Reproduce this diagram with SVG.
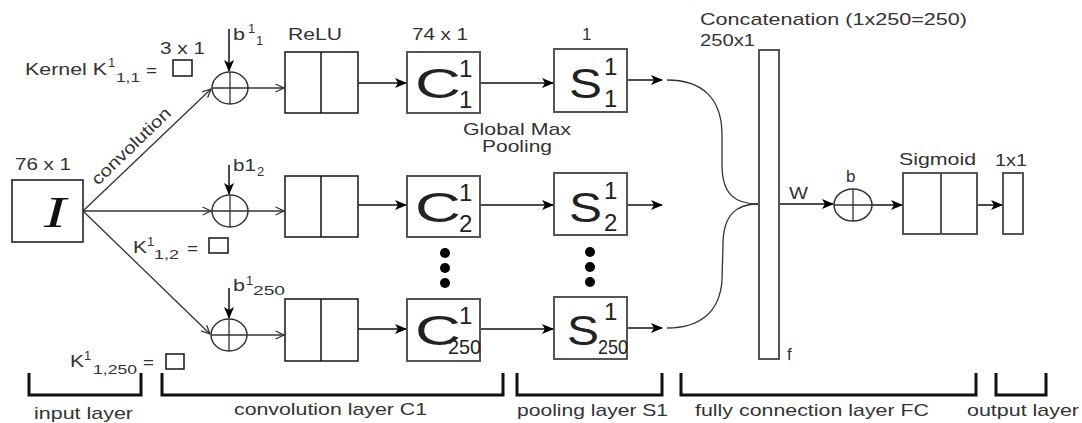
<svg xmlns="http://www.w3.org/2000/svg" width="1082" height="423" viewBox="0 0 1082 423">
<style>
text{font-family:"Liberation Sans",Arial,sans-serif;fill:#333}
.t{font-size:17px}
.s{font-size:13px}
.big{font-size:42px;fill:#222}
.mid{font-size:24px;fill:#222}
.sm{font-size:21px;fill:#222}
.serif{font-family:"Liberation Serif","Times New Roman",serif;font-style:italic;font-size:44px;fill:#111}
.box{fill:#fff;stroke:#222;stroke-width:1.6}
.gbox{fill:#fff;stroke:#555;stroke-width:2}
.ln{fill:none;stroke:#333;stroke-width:1.3}
.bk{fill:none;stroke:#111;stroke-width:1.5}
.fa{marker-end:url(#fa)}
.oa{marker-end:url(#oa)}
.br{fill:none;stroke:#111;stroke-width:3}
.sum{fill:#fff;stroke:#333;stroke-width:1.5}
.dot{fill:#000}
</style>
<defs>
<marker id="fa" viewBox="0 0 12 10" refX="11" refY="5" markerWidth="12" markerHeight="10" orient="auto" markerUnits="userSpaceOnUse"><path d="M0,0 L12,5 L0,10 L3,5 z" fill="#000"/></marker>
<marker id="oa" viewBox="0 0 10 10" refX="9.5" refY="5" markerWidth="10" markerHeight="10" orient="auto" markerUnits="userSpaceOnUse"><path d="M1,1 L9.5,5 L1,9" fill="none" stroke="#333" stroke-width="1.3"/></marker>
</defs>
<rect width="1082" height="423" fill="#fff"/>

<g id="connectors">
<path class="ln oa" d="M83,211 L211,89"/>
<path class="ln oa" d="M83,211 L211,211"/>
<path class="ln oa" d="M83,211 L210,334"/>
<path class="bk fa" d="M229,29 V71"/>
<path class="bk fa" d="M229,165 V194"/>
<path class="bk fa" d="M229,288 V318"/>
<path class="ln oa" d="M248,88 H284"/>
<path class="ln oa" d="M248,211 H284"/>
<path class="ln oa" d="M247,335 H284"/>
<path class="bk fa" d="M358,83 H406"/>
<path class="bk fa" d="M358,205 H406"/>
<path class="bk fa" d="M358,329 H406"/>
<path class="bk fa" d="M480,83 H553"/>
<path class="bk fa" d="M480,205 H553"/>
<path class="bk fa" d="M480,329 H553"/>
<path class="bk fa" d="M627,80 H662"/>
<path class="bk fa" d="M627,205 H662"/>
<path class="bk fa" d="M627,328 H662"/>
<path class="ln" d="M667,80 C702,80 722,98 722,135 L722,165 C722,194 735,204 758,204"/>
<path class="ln" d="M758,204 C737,204 723,214 723,245 L722,280 C720,312 700,328 667,328"/>
<path class="bk fa" d="M779,204 H833"/>
<path class="bk fa" d="M872,205 H902"/>
<path class="bk fa" d="M977,205 H1002"/>
</g>

<g id="input">
<rect class="box" x="12" y="180" width="71" height="62"/>
<text class="serif" x="55" y="227" text-anchor="middle" textLength="22" lengthAdjust="spacingAndGlyphs">I</text>
<text class="t" x="15" y="170" textLength="56" lengthAdjust="spacingAndGlyphs">76 x 1</text>
</g>

<g id="conv-label">
<text class="t" transform="translate(98,186) rotate(-44)" textLength="103" lengthAdjust="spacingAndGlyphs">convolution</text>
</g>

<g id="kernel1">
<text class="t" x="25" y="75" textLength="82" lengthAdjust="spacingAndGlyphs">Kernel K</text>
<text class="s" x="108" y="67">1</text>
<text class="s" x="116" y="82" textLength="24" lengthAdjust="spacingAndGlyphs">1,1</text>
<text class="t" x="146" y="76" textLength="11" lengthAdjust="spacingAndGlyphs">=</text>
<rect class="box" x="173" y="60" width="19" height="16" stroke-width="1.3"/>
<text class="t" x="160" y="54" textLength="45" lengthAdjust="spacingAndGlyphs">3 x 1</text>
</g>

<g id="kernel2">
<text class="t" x="133" y="253" textLength="14" lengthAdjust="spacingAndGlyphs">K</text>
<text class="s" x="147" y="246">1</text>
<text class="s" x="154" y="259" textLength="25" lengthAdjust="spacingAndGlyphs">1,2</text>
<text class="t" x="187" y="254" textLength="11" lengthAdjust="spacingAndGlyphs">=</text>
<rect class="box" x="209" y="238" width="19" height="15" stroke-width="1.3"/>
</g>

<g id="kernel250">
<text class="t" x="70" y="367" textLength="14" lengthAdjust="spacingAndGlyphs">K</text>
<text class="s" x="84" y="360">1</text>
<text class="s" x="93" y="374" textLength="44" lengthAdjust="spacingAndGlyphs">1,250</text>
<text class="t" x="143" y="368" textLength="11" lengthAdjust="spacingAndGlyphs">=</text>
<rect class="box" x="166" y="354" width="18" height="15" stroke-width="1.3"/>
</g>

<g id="sum1">
<ellipse class="sum" cx="230" cy="88" rx="18" ry="16"/>
<path class="ln" d="M212,88 H248 M230,72 V104"/>
<text class="t" x="233" y="40" textLength="12" lengthAdjust="spacingAndGlyphs">b</text>
<text class="s" x="248" y="33">1</text>
<text class="s" x="256" y="45">1</text>
</g>
<g id="sum2">
<ellipse class="sum" cx="230" cy="211" rx="18" ry="16"/>
<path class="ln" d="M212,211 H248 M230,195 V227"/>
<text class="t" x="233" y="171" textLength="23" lengthAdjust="spacingAndGlyphs">b1</text>
<text class="s" x="257" y="176">2</text>
</g>
<g id="sum3">
<ellipse class="sum" cx="229" cy="335" rx="18" ry="16"/>
<path class="ln" d="M211,335 H247 M229,319 V351"/>
<text class="t" x="233" y="291" textLength="12" lengthAdjust="spacingAndGlyphs">b</text>
<text class="s" x="246" y="285">1</text>
<text class="s" x="253" y="295" textLength="32" lengthAdjust="spacingAndGlyphs">250</text>
</g>

<g id="relu1">
<rect class="box" x="285" y="52" width="73" height="61"/>
<path class="bk" d="M321,52 V113"/>
<text class="t" x="288" y="40" textLength="54" lengthAdjust="spacingAndGlyphs">ReLU</text>
</g>
<g id="relu2">
<rect class="box" x="285" y="176" width="73" height="61"/>
<path class="bk" d="M321,176 V237"/>
</g>
<g id="relu3">
<rect class="box" x="285" y="299" width="73" height="62"/>
<path class="bk" d="M321,299 V361"/>
</g>

<g id="c1">
<rect class="gbox" x="407" y="52" width="73" height="61"/>
<text class="big" x="415" y="98" textLength="46" lengthAdjust="spacingAndGlyphs">C</text>
<text class="mid" x="459" y="77">1</text>
<text class="mid" x="459" y="108">1</text>
<text class="t" x="412" y="40" textLength="56" lengthAdjust="spacingAndGlyphs">74 x 1</text>
</g>
<g id="c2">
<rect class="gbox" x="407" y="176" width="73" height="61"/>
<text class="big" x="415" y="222" textLength="46" lengthAdjust="spacingAndGlyphs">C</text>
<text class="mid" x="459" y="201">1</text>
<text class="mid" x="459" y="232">2</text>
</g>
<g id="c250">
<rect class="gbox" x="407" y="299" width="73" height="62"/>
<text class="big" x="415" y="345" textLength="46" lengthAdjust="spacingAndGlyphs">C</text>
<text class="mid" x="459" y="324">1</text>
<text class="sm" x="448" y="354" textLength="33" lengthAdjust="spacingAndGlyphs">250</text>
</g>
<g id="c-dots">
<circle class="dot" cx="445" cy="253" r="5"/>
<circle class="dot" cx="445" cy="268" r="5"/>
<circle class="dot" cx="445" cy="283" r="5"/>
</g>

<g id="pool-label">
<text class="t" x="463" y="135" textLength="108" lengthAdjust="spacingAndGlyphs">Global Max</text>
<text class="t" x="482" y="152" textLength="70" lengthAdjust="spacingAndGlyphs">Pooling</text>
</g>

<g id="s1">
<rect class="gbox" x="554" y="49" width="73" height="63"/>
<text class="big" x="569" y="98" textLength="33" lengthAdjust="spacingAndGlyphs">S</text>
<text class="mid" x="604" y="75">1</text>
<text class="mid" x="604" y="107">1</text>
<text class="t" x="582" y="40">1</text>
</g>
<g id="s2">
<rect class="gbox" x="554" y="173" width="73" height="62"/>
<text class="big" x="569" y="222" textLength="33" lengthAdjust="spacingAndGlyphs">S</text>
<text class="mid" x="604" y="199">1</text>
<text class="mid" x="604" y="231">2</text>
</g>
<g id="s250">
<rect class="gbox" x="554" y="297" width="73" height="62"/>
<text class="big" x="567" y="345" textLength="32" lengthAdjust="spacingAndGlyphs">S</text>
<text class="mid" x="604" y="320">1</text>
<text class="sm" x="598" y="354" textLength="30" lengthAdjust="spacingAndGlyphs">250</text>
</g>
<g id="s-dots">
<circle class="dot" cx="590" cy="252" r="5"/>
<circle class="dot" cx="590" cy="267" r="5"/>
<circle class="dot" cx="590" cy="282" r="5"/>
</g>

<g id="concat">
<rect class="gbox" x="759" y="50" width="20" height="309"/>
<text class="t" x="700" y="25" textLength="267" lengthAdjust="spacingAndGlyphs">Concatenation (1x250=250)</text>
<text class="t" x="700" y="46" textLength="55" lengthAdjust="spacingAndGlyphs">250x1</text>
<text class="t" x="787" y="360">f</text>
<text class="t" x="789" y="199" textLength="19" lengthAdjust="spacingAndGlyphs">W</text>
</g>

<g id="sumb">
<ellipse class="sum" cx="853" cy="205" rx="19" ry="16"/>
<path class="ln" d="M834,205 H872 M853,189 V221"/>
<text class="t" x="846" y="182">b</text>
</g>

<g id="sigmoid">
<rect class="gbox" x="903" y="173" width="74" height="61"/>
<path class="gbox" d="M941,173 V234"/>
<text class="t" x="899" y="165" textLength="77" lengthAdjust="spacingAndGlyphs">Sigmoid</text>
</g>

<g id="output">
<rect class="gbox" x="1003" y="173" width="20" height="61"/>
<text class="t" x="995" y="166" textLength="32" lengthAdjust="spacingAndGlyphs">1x1</text>
</g>

<g id="brackets">
<path class="br" d="M29,373 V395 H141 V373"/>
<path class="br" d="M162,373 V395 H503 V373"/>
<path class="br" d="M517,373 V395 H662 V373"/>
<path class="br" d="M681,373 V395 H976 V373"/>
<path class="br" d="M996,373 V395 H1046 V373"/>
<text class="t" x="34" y="419" textLength="99" lengthAdjust="spacingAndGlyphs">input layer</text>
<text class="t" x="234" y="415" textLength="193" lengthAdjust="spacingAndGlyphs">convolution layer C1</text>
<text class="t" x="517" y="416" textLength="151" lengthAdjust="spacingAndGlyphs">pooling layer S1</text>
<text class="t" x="695" y="416" textLength="234" lengthAdjust="spacingAndGlyphs">fully connection layer FC</text>
<text class="t" x="967" y="416" textLength="112" lengthAdjust="spacingAndGlyphs">output layer</text>
</g>
</svg>
